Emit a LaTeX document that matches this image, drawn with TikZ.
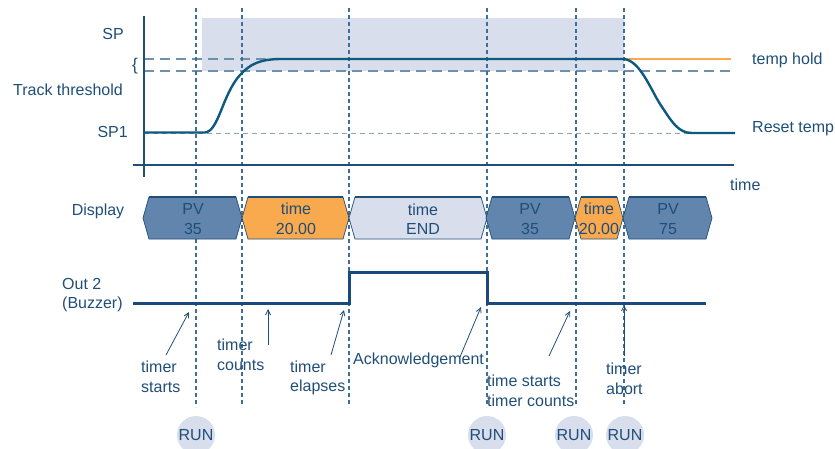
\documentclass[tikz,border=0pt]{standalone}
\usepackage{fontspec}
\setmainfont{Liberation Sans}
\usetikzlibrary{arrows.meta}
\definecolor{txt}{HTML}{1F4E79}
\definecolor{shadebg}{HTML}{D9DEEC}
\definecolor{vdash}{HTML}{3F6E98}
\definecolor{hdash}{HTML}{6E8FAE}
\definecolor{sponeline}{HTML}{8AA3BE}
\definecolor{curvecol}{HTML}{0E5A7E}
\definecolor{orangec}{HTML}{F9A94E}
\definecolor{pvfill}{HTML}{6285AE}
\definecolor{sigcol}{HTML}{1A4A7A}
\tikzset{
  lbl/.style={inner sep=0pt, text=txt},
  vguide/.style={draw=vdash, line width=1.1pt, dash pattern=on 4pt off 3pt},
  thr/.style={draw=hdash, line width=1.4pt, dash pattern=on 10pt off 6pt},
  spone/.style={draw=sponeline, line width=0.9pt, dash pattern=on 5pt off 4pt},
  curvestyle/.style={draw=curvecol, line width=2.4pt},
  axisline/.style={draw=txt, line width=1.6pt},
  hexbox/.style={draw=txt, line width=0.7pt},
  hextop/.style={draw=txt, line width=1.6pt},
  sig/.style={draw=sigcol, line width=3pt},
  ann/.style={draw=txt, line width=0.8pt, -{Straight Barb[length=5pt,width=5pt]}},
  runc/.style={circle, fill=shadebg, minimum size=38pt, inner sep=0pt, text=txt},
  boxtxt/.style={align=center, inner sep=0pt, text=txt},
}
\newcommand{\hexshape}[3]{%
  \filldraw[hexbox, fill=#3] (#1,218) -- (#1+6,197) -- (#2-6,197) -- (#2,218) -- (#2-6,239) -- (#1+6,239) -- cycle;
  \draw[hextop] (#1+6,197) -- (#2-6,197);
}
\begin{document}
\begin{tikzpicture}[x=1pt,y=-1pt, font=\fontsize{16}{19.5}\selectfont]
\useasboundingbox (0,0) rectangle (835,449);
% shaded zone
\fill[shadebg] (202,18) rectangle (624,71);
% threshold lines
\draw[thr] (144,59) -- (732,59);
\draw[thr] (144,71) -- (732,71);
\draw[spone] (144,133) -- (734,133);
% vertical guides
\foreach \x/\n in {196/a,242/b,349/c,487/d,576/e,624/f}{
  \coordinate (g\n t) at (\x,8);
  \coordinate (g\n b) at (\x,407);
  \draw[vguide] (g\n t) -- (g\n b);
}
% axes
\draw[axisline] (144,16) -- (144,177);
\draw[axisline] (133,165) -- (734,165);
% temp curves
\draw[draw=orangec, line width=2pt] (624,59) -- (731,59);
\draw[curvestyle] (144,132.5) -- (205,132.5) .. controls (219,131) and (222,95) .. (240,75)
  .. controls (250,64) and (260,59) .. (282,59) -- (624,59)
  .. controls (640,61) and (650,88) .. (660,104) .. controls (672,122) and (678,133) .. (692,133) -- (735,133);
% labels top
\node[lbl] (sp) at (113,34) {SP};
\node[lbl, font=\fontsize{17}{19}\selectfont] (brace) at (135,66) {\{};
\node[lbl, anchor=east] (track) at (123,90) {Track threshold};
\node[lbl, anchor=east] (sp1) at (128,132) {SP1};
\node[lbl, anchor=west] (hold) at (752,60) {temp hold};
\node[lbl, anchor=west] (reset) at (752,129) {Reset temp};
\node[lbl, anchor=west] (timeax) at (730,185) {time};
% display row
\node[lbl] (disp) at (98,211) {Display};
\hexshape{143}{242}{pvfill}
\hexshape{242}{349}{orangec}
\hexshape{349}{487}{shadebg}
\hexshape{486}{575}{pvfill}
\hexshape{575}{623}{orangec}
\hexshape{623}{712}{pvfill}
\node[boxtxt] (d1) at (193,219) {PV\\35};
\node[boxtxt] (d2) at (296,219) {time\\20.00};
\node[boxtxt] (d3) at (423,219) {time\\END};
\node[boxtxt] (d4) at (530,219) {PV\\35};
\node[boxtxt] (d5) at (599,219) {time\\20.00};
\node[boxtxt] (d6) at (668,219) {PV\\75};
% out 2 signal
\node[lbl, anchor=west, align=left] (out) at (62,295) {Out 2\\(Buzzer)};
\draw[sig] (133,303) -- (349,303) -- (349,272) -- (487,272) -- (487,303) -- (706,303);
% annotations
\node[lbl, anchor=west, align=left] (tstart) at (141,377) {timer\\starts};
\node[lbl, anchor=west, align=left] (tcount) at (217,355) {timer\\counts};
\node[lbl, anchor=west, align=left] (telap) at (290,378) {timer\\elapses};
\node[lbl, anchor=west] (ack) at (353,360) {Acknowledgement};
\node[lbl, anchor=west, align=left] (tst2) at (487,391) {time starts\\timer counts};
\node[lbl, anchor=west, align=left] (tabort) at (606,379) {timer\\abort};
\coordinate (a1s) at (166,355); \coordinate (a1e) at (189,312);
\coordinate (a2s) at (268,345); \coordinate (a2e) at (268,309);
\coordinate (a3s) at (331,355); \coordinate (a3e) at (344,310);
\coordinate (a4s) at (460,357); \coordinate (a4e) at (481,307);
\coordinate (a5s) at (549,356); \coordinate (a5e) at (570,311);
\coordinate (a6s) at (624,356); \coordinate (a6e) at (624,305);
\draw[ann] (a1s) -- (a1e);
\draw[ann] (a2s) -- (a2e);
\draw[ann] (a3s) -- (a3e);
\draw[ann] (a4s) -- (a4e);
\draw[ann] (a5s) -- (a5e);
\draw[ann] (a6s) -- (a6e);
% RUN circles
\node[runc] (r1) at (196,435) {RUN};
\node[runc] (r2) at (487,435) {RUN};
\node[runc] (r3) at (574,435) {RUN};
\node[runc] (r4) at (625,435) {RUN};
\end{tikzpicture}
\end{document}
